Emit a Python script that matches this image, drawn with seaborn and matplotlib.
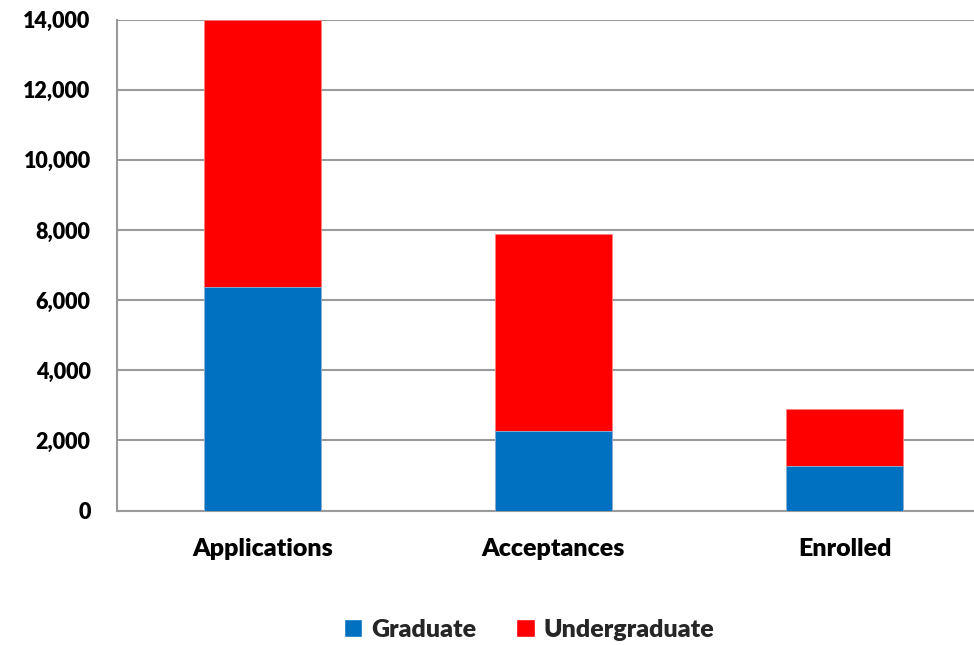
import matplotlib
matplotlib.use("Agg")
import matplotlib.pyplot as plt
import seaborn as sns
import pandas as pd
from matplotlib.ticker import FuncFormatter, FixedLocator
from matplotlib.patches import Patch

categories = ["Applications", "Acceptances", "Enrolled"]
graduate = [6370, 2280, 1270]
undergraduate = [7630, 5610, 1620]
series_names = ["Graduate", "Undergraduate"]
yticks = [0, 2000, 4000, 6000, 8000, 10000, 12000, 14000]

BLUE = "#0070C0"
RED = "#FF0000"
GRID = "#9a9a9a"
WEIGHT = "heavy"

sns.set_theme(style="white")
plt.rcParams["font.family"] = ["Lato", "DejaVu Sans"]

df = pd.DataFrame({
    "category": categories,
    "Graduate": graduate,
    "Undergraduate": undergraduate,
})
df["Total"] = df["Graduate"] + df["Undergraduate"]

fig = plt.figure(figsize=(9.74, 6.45), dpi=100)
ax = fig.add_axes([117 / 974, 1 - 510.5 / 645, 873 / 974, (510.5 - 19.5) / 645])

sns.barplot(data=df, x="category", y="Total", color=RED, width=0.4,
            saturation=1, ax=ax, edgecolor="#ff8080", linewidth=0.6, zorder=3)
sns.barplot(data=df, x="category", y="Graduate", color=BLUE, width=0.4,
            saturation=1, ax=ax, edgecolor="#8fb8dc", linewidth=0.6, zorder=4)

ax.set_xlim(-0.5, 2.5)
ax.set_ylim(0, 14000)
ax.yaxis.set_major_locator(FixedLocator(yticks))
ax.yaxis.set_major_formatter(FuncFormatter(lambda v, p: f"{int(v):,}"))
ax.grid(axis="y", color=GRID, linewidth=1.5, zorder=0)
ax.set_axisbelow(True)

for s in ["top", "right"]:
    ax.spines[s].set_visible(False)
for s in ["left", "bottom"]:
    ax.spines[s].set_color(GRID)
    ax.spines[s].set_linewidth(1.5)

ax.set_xlabel("")
ax.set_ylabel("")
ax.set_xticks([0, 1, 2])
ax.set_xticklabels(categories, fontsize=18, fontweight=WEIGHT, color="black")
ax.tick_params(axis="x", length=0, pad=20)
ax.set_xticks([-0.5, 0.5, 1.5, 2.5], minor=True)
ax.tick_params(axis="x", which="minor", length=6.5, width=1.5, color=GRID, direction="out")
ax.tick_params(axis="y", length=6.5, width=1.5, color=GRID, direction="out",
               labelsize=15.5, pad=12.5)
for t in ax.get_yticklabels():
    t.set_fontweight(WEIGHT)
    t.set_color("black")

handles = [Patch(facecolor=BLUE, label=series_names[0]),
           Patch(facecolor=RED, label=series_names[1])]
fig.legend(handles=handles, loc="center", bbox_to_anchor=(529 / 974, 1 - 630 / 645),
           ncol=2, frameon=False, prop={"size": 18, "weight": WEIGHT},
           handlelength=0.75, handleheight=0.75, handletextpad=0.35, columnspacing=1.6)

fig.savefig("out.png", dpi=100)
